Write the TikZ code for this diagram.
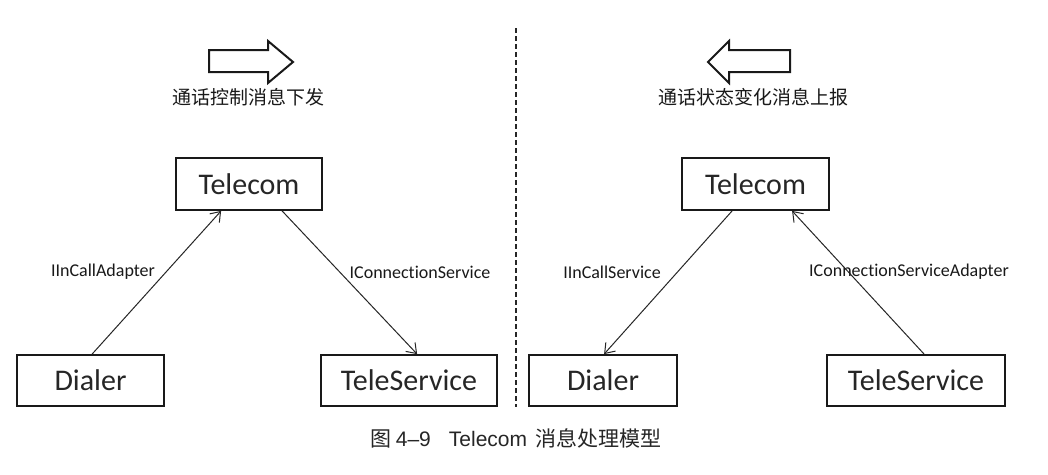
\documentclass[tikz,border=0pt]{standalone}
\usepackage{fontspec}
\setmainfont{Liberation Sans}
\newfontfamily\boxfont[RawFeature={-liga;-clig;-calt;-dlig}]{Carlito}
\newfontfamily\cjk{Noto Sans CJK SC}
\usetikzlibrary{arrows.meta}
\begin{document}
\begin{tikzpicture}[x=1pt,y=-1pt,
  box/.style={draw=black!90, line width=1.8pt, inner sep=0pt, font=\boxfont\fontsize{30}{36}\selectfont, text=black!85},
  lbl/.style={font=\boxfont\fontsize{18}{22}\selectfont, text=black!90, inner sep=0pt},
  cn/.style={font=\cjk\fontsize{19}{23}\selectfont, text=black!90, inner sep=0pt},
  link/.style={draw=black!85, line width=1pt, -{Straight Barb[length=9pt,width=13pt,line width=1pt]}},
  blockarrow/.style={draw=black!90, line width=2pt, fill=white, line join=miter},
  divider/.style={draw=black!85, line width=1.1pt, dash pattern=on 5pt off 3pt},
]
\useasboundingbox[fill=white] (0,0) rectangle (1048,474);

% divider
\draw[divider] (516,28) -- (516,407);

% block arrows
\draw[blockarrow] (209,50) -- (268,50) -- (268,41) -- (293,62) -- (268,83) -- (268,72) -- (209,72) -- cycle;
\draw[blockarrow] (790,50) -- (729,50) -- (729,41) -- (708,62) -- (729,83) -- (729,72) -- (790,72) -- cycle;

\node[cn] (capL) at (248,97) {通话控制消息下发};
\node[cn] (capR) at (753,97) {通话状态变化消息上报};

% left half
\node[box, minimum width=146pt, minimum height=52pt] (tl) at (249,184) {Telecom};
\node[box, minimum width=147pt, minimum height=51pt] (dl) at (90.5,380.5) {Dialer};
\node[box, minimum width=176pt, minimum height=51pt] (sl) at (409,380.5) {TeleService};

\draw[link] ([xshift=76pt]dl.north west) -- ([xshift=46pt]tl.south west);
\draw[link] ([xshift=107pt]tl.south west) -- ([xshift=97pt]sl.north west);

\node[lbl] (la) at (103,272) {IInCallAdapter};
\node[lbl] (lb) at (420,272) {IConnectionService};

% right half
\node[box, minimum width=147pt, minimum height=52pt] (tr) at (755.5,184) {Telecom};
\node[box, minimum width=148pt, minimum height=51pt] (dr) at (603,380.5) {Dialer};
\node[box, minimum width=178pt, minimum height=51pt] (sr) at (916,380.5) {TeleService};

\draw[link] ([xshift=51pt]tr.south west) -- ([xshift=76pt]dr.north west);
\draw[link] ([xshift=98pt]sr.north west) -- ([xshift=111pt]tr.south west);

\node[lbl] (ra) at (612,272) {IInCallService};
\node[lbl] (rb) at (909,272) {IConnectionServiceAdapter};

% caption
\node[inner sep=0pt, font=\fontsize{21}{25}\selectfont, text=black!85] (cap) at (516,438)
  {{\cjk 图}\hspace{4pt}4–9\hspace{18pt}Telecom\hspace{8pt}{\cjk 消息处理模型}};
\end{tikzpicture}
\end{document}
